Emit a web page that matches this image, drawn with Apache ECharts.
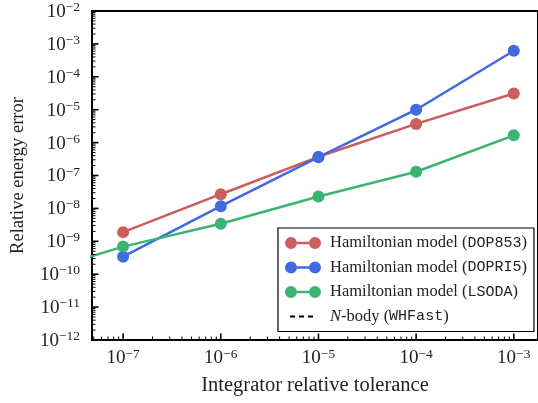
<!DOCTYPE html>
<html>
<head>
<meta charset="utf-8">
<script src="https://cdn.jsdelivr.net/npm/echarts@6/dist/echarts.min.js"></script>
<style>
  html, body { margin: 0; padding: 0; background: #fff; }
  #chart { width: 538px; height: 403px; }
</style>
</head>
<body>
<div id="chart"></div>
<script>
/* data */
var tolerances = [1e-8, 1e-7, 1e-6, 1e-5, 1e-4, 1e-3];
var dop853Err = [null, 1.9e-9, 2.7e-8, 3.7e-7, 3.7e-6, 3.1e-5];
var dopri5Err = [null, 3.4e-10, 1.17e-8, 3.6e-7, 1.0e-5, 6.2e-4];
var lsodaErr = [8.5e-11, 6.9e-10, 3.4e-9, 2.3e-8, 1.3e-7, 1.66e-6];
var nbodyErr = 1.4e-7;
var seriesNames = ['Hamiltonian model (DOP853)', 'Hamiltonian model (DOPRI5)', 'Hamiltonian model (LSODA)', 'N-body (WHFast)'];
var seriesColors = ['#cd5c5c', '#4169e1', '#3cb371', '#000000'];
var xMajorTicks = [1e-7, 1e-6, 1e-5, 1e-4, 1e-3];
var yMajorTicks = [1e-12, 1e-11, 1e-10, 1e-9, 1e-8, 1e-7, 1e-6, 1e-5, 1e-4, 1e-3, 1e-2];

var xMin = 4.8e-8, xMax = 1.77e-3;
var yMin = 1e-12, yMax = 1e-2;

var serif = 'Liberation Serif';
var mono = 'Liberation Mono';

function pairs(ys) {
    var out = [];
    for (var i = 0; i < tolerances.length; i++) {
        if (ys[i] != null) out.push([tolerances[i], ys[i]]);
    }
    return out;
}

// major + minor (2..9) ticks for a log axis
function logTicks(majors, lo, hi) {
    var t = [];
    majors.concat([majors[0] / 10]).forEach(function (m) {
        for (var k = 1; k <= 9; k++) {
            var v = m * k;
            if (v >= lo * 0.999 && v <= hi * 1.001) t.push({v: v, major: k === 1});
        }
    });
    return t;
}

function powLabel(v) {
    var e = Math.log10(v);
    var r = Math.round(e);
    if (Math.abs(e - r) > 1e-6) return '';
    return '{b|10}{s|' + (r < 0 ? '\u2212' + (-r) : r) + '}';
}

var labelRich = {
    b: {fontFamily: serif, fontSize: 19, color: '#222', lineHeight: 21, verticalAlign: 'bottom'},
    s: {fontFamily: serif, fontSize: 13.5, color: '#222', lineHeight: 13, verticalAlign: 'top'}
};

// legend icons: two dots joined by a line, and a short dashed line
var dotIcon = 'path://M0,6a6,6 0 1,0 12,0a6,6 0 1,0 -12,0z M24,6a6,6 0 1,0 12,0a6,6 0 1,0 -12,0z M11.8,4.8h12.4v2.4h-12.4z M39.99,11.99h0.01v0.01h-0.01z M0,0h0.01v0.01h-0.01z';
var dashIcon = 'path://M5,5h5v2h-5z M14,5h5v2h-5z M23,5h5v2h-5z M39.99,11.99h0.01v0.01h-0.01z M0,0h0.01v0.01h-0.01z';

var xTickData = logTicks(xMajorTicks, xMin, xMax).map(function (t) { return [t.v, yMin, t.major ? 1 : 0]; });
var yTickData = logTicks(yMajorTicks, yMin, yMax).map(function (t) { return [xMin, t.v, t.major ? 1 : 0]; });

function lineSeries(i, ys) {
    return {
        name: seriesNames[i],
        type: 'line',
        data: pairs(ys),
        color: seriesColors[i],
        symbol: 'circle',
        symbolSize: 12,
        showSymbol: true,
        lineStyle: {width: 2.5, color: seriesColors[i]},
        itemStyle: {color: seriesColors[i]},
        clip: true,
        z: 3
    };
}

var myChart = echarts.init(document.getElementById('chart'), null, {renderer: 'canvas'});
myChart.setOption({
    animation: false,
    grid: {
        left: 92, top: 11, right: -2, bottom: 63,
        show: true, borderColor: '#000', borderWidth: 2, backgroundColor: 'transparent'
    },
    legend: {
        orient: 'vertical',
        left: 278, top: 228,
        padding: [6, 7, 6, 7],
        itemWidth: 40, itemHeight: 12, itemGap: 6.5,
        borderColor: '#000', borderWidth: 1.2, borderRadius: 0,
        backgroundColor: '#fff',
        selectedMode: false,
        data: [
            {name: seriesNames[0], icon: dotIcon, itemStyle: {color: seriesColors[0]}},
            {name: seriesNames[1], icon: dotIcon, itemStyle: {color: seriesColors[1]}},
            {name: seriesNames[2], icon: dotIcon, itemStyle: {color: seriesColors[2]}},
            {name: seriesNames[3], icon: dashIcon, itemStyle: {color: '#000'}}
        ],
        formatter: function (name) {
            var m = /^(.*)\((\w+)\)$/.exec(name);
            var head = m[1];
            if (head.indexOf('N-') === 0) {
                return '{i|N}{r|' + head.slice(1) + '(}{m|' + m[2] + '}{r|)}';
            }
            return '{r|' + head + '(}{m|' + m[2] + '}{r|)}';
        },
        textStyle: {
            lineHeight: 18,
            rich: {
                r: {fontFamily: serif, fontSize: 16.5, color: '#222', lineHeight: 18},
                i: {fontFamily: serif, fontSize: 16.5, fontStyle: 'italic', color: '#222', lineHeight: 18},
                m: {fontFamily: mono, fontSize: 15, color: '#222', lineHeight: 18}
            }
        }
    },
    xAxis: {
        type: 'log',
        min: xMin, max: xMax,
        logBase: 10,
        name: 'Integrator relative tolerance',
        nameLocation: 'middle',
        nameGap: 35,
        nameTextStyle: {fontFamily: serif, fontSize: 20.5, color: '#222', verticalAlign: 'top'},
        axisLine: {show: false},
        axisTick: {show: false},
        splitLine: {show: false},
        axisLabel: {
            showMinLabel: false, showMaxLabel: false,
            margin: 7,
            formatter: powLabel,
            rich: labelRich
        }
    },
    yAxis: {
        type: 'log',
        min: yMin, max: yMax,
        logBase: 10,
        splitNumber: 10,
        name: 'Relative energy error',
        nameLocation: 'middle',
        nameGap: 64,
        nameTextStyle: {fontFamily: serif, fontSize: 18.5, color: '#222'},
        axisLine: {show: false},
        axisTick: {show: false},
        splitLine: {show: false},
        axisLabel: {
            interval: 0,
            margin: 12,
            formatter: powLabel,
            rich: labelRich
        }
    },
    series: [
        lineSeries(0, dop853Err),
        lineSeries(1, dopri5Err),
        lineSeries(2, lsodaErr),
        {
            name: seriesNames[3],
            type: 'line',
            data: [],
            color: '#000',
            symbol: 'none',
            markLine: {
                silent: true,
                symbol: 'none',
                label: {show: false},
                lineStyle: {color: '#000', width: 2, type: [6, 5]},
                data: [{yAxis: nbodyErr}]
            },
            z: 2
        },
        {
            type: 'custom',
            silent: true,
            clip: false,
            z: 5,
            encode: {x: 0, y: 1},
            data: xTickData,
            renderItem: function (params, api) {
                var p = api.coord([api.value(0), api.value(1)]);
                var major = api.value(2) === 1;
                var len = major ? 6.5 : 3.5;
                return {
                    type: 'line',
                    shape: {x1: p[0], y1: p[1], x2: p[0], y2: p[1] - len},
                    style: {stroke: '#000', lineWidth: major ? 1.6 : 1}
                };
            }
        },
        {
            type: 'custom',
            silent: true,
            clip: false,
            z: 5,
            encode: {x: 0, y: 1},
            data: yTickData,
            renderItem: function (params, api) {
                var p = api.coord([api.value(0), api.value(1)]);
                var major = api.value(2) === 1;
                var len = major ? 6.5 : 3.5;
                return {
                    type: 'line',
                    shape: {x1: p[0], y1: p[1], x2: p[0] + len, y2: p[1]},
                    style: {stroke: '#000', lineWidth: major ? 1.6 : 1}
                };
            }
        }
    ]
});
</script>
</body>
</html>
